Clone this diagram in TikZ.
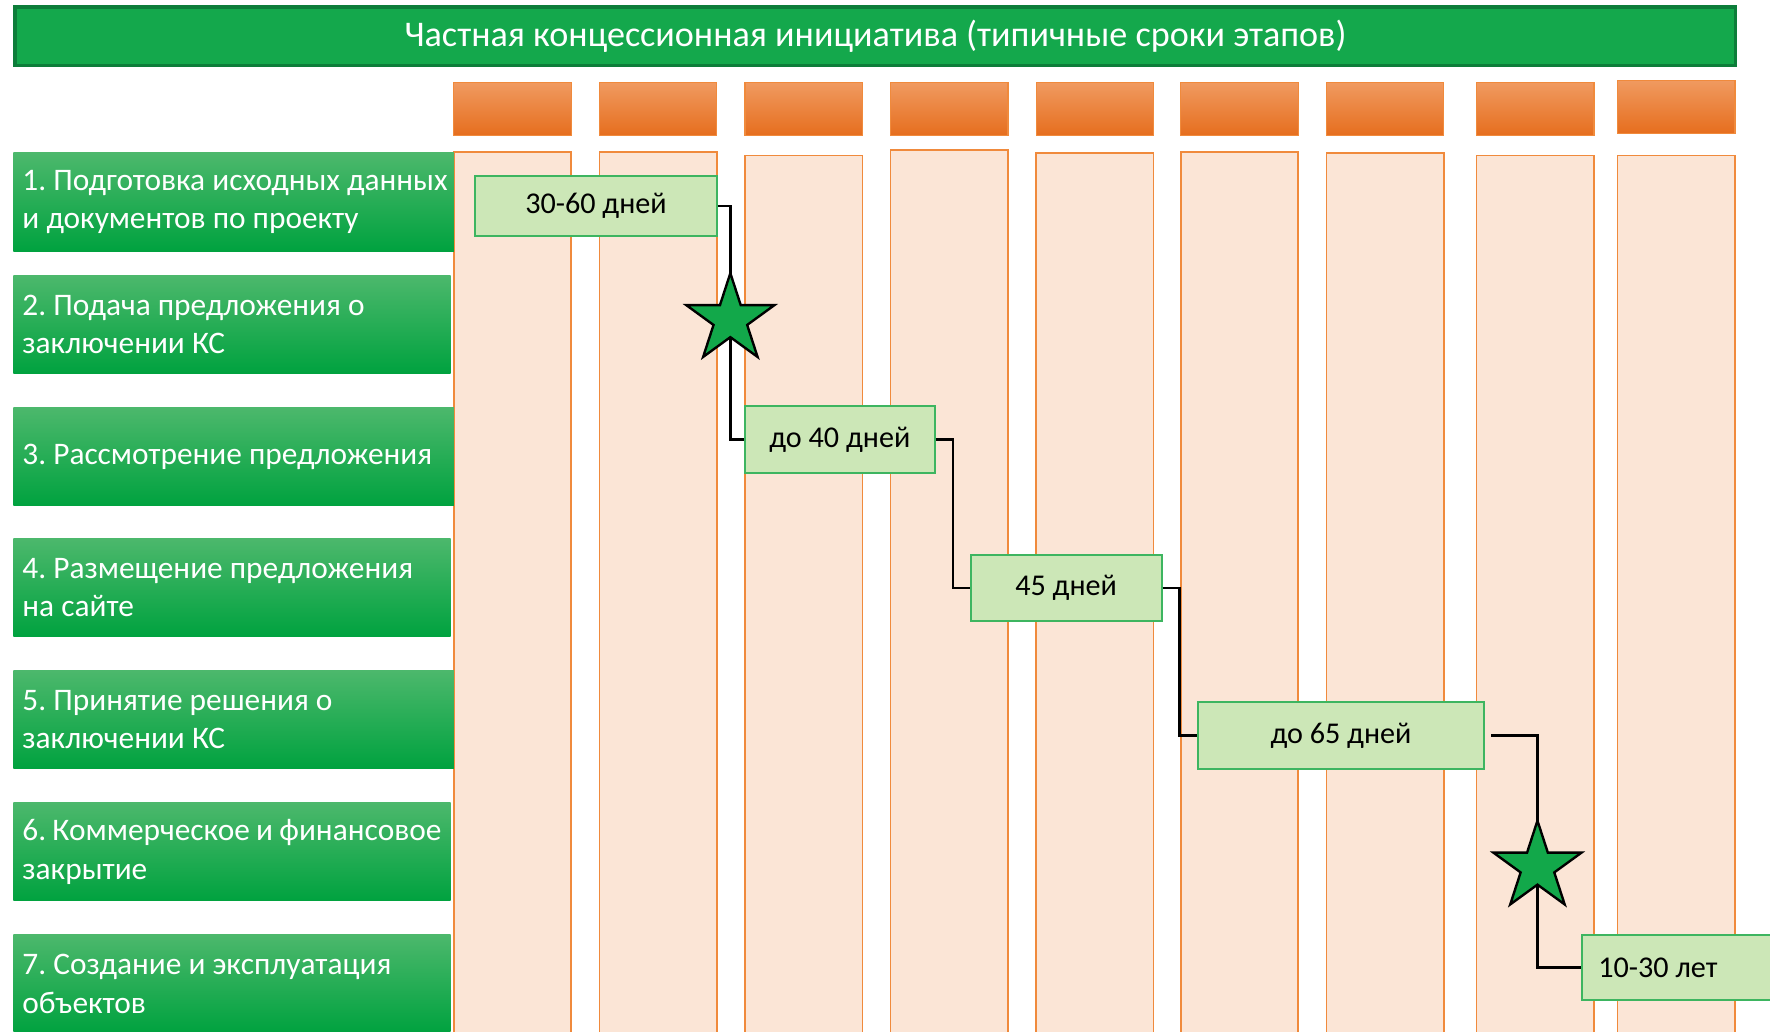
\documentclass[tikz,border=0pt]{standalone}
\usepackage{fontspec}
\setmainfont{Carlito}
\usetikzlibrary{shapes.geometric}

\definecolor{titlegreen}{HTML}{14A84C}
\definecolor{titleline}{HTML}{0D7D3A}
\definecolor{rowtop}{HTML}{4CB86C}
\definecolor{rowbottom}{HTML}{00A23F}
\definecolor{headtop}{HTML}{F09A60}
\definecolor{headmid}{HTML}{F2832A}
\definecolor{headbottom}{HTML}{E66E1E}
\definecolor{colfill}{HTML}{FBE5D6}
\definecolor{colline}{HTML}{F08A3C}
\definecolor{stepfill}{HTML}{CCE7B7}
\definecolor{stepline}{HTML}{3DB560}
\definecolor{starfill}{HTML}{12A84A}

\begin{document}
\frenchspacing
\begin{tikzpicture}[x=0.01cm,y=-0.01cm,
    colbody/.style={draw=colline, line width=0.4pt, fill=colfill, anchor=north,
      minimum width=1.04cm, minimum height=8cm, inner sep=0pt},
    colhead/.style={draw=colline, line width=0.3pt, top color=headtop, middle color=headmid,
      bottom color=headbottom, minimum width=1.04cm, minimum height=0.47cm, inner sep=0pt},
    rowlabel/.style={top color=rowtop, bottom color=rowbottom, text=white, align=flush left,
      inner xsep=0.08cm, inner ysep=0pt, minimum height=0.87cm,
      font=\fontsize{7.9}{9.7}\selectfont},
    stepbox/.style={draw=stepline, line width=0.5pt, fill=stepfill, inner sep=0pt,
      font=\fontsize{7.6}{9}\selectfont},
    starmark/.style={star, star points=5, star point ratio=2.618, minimum size=0.82cm,
      inner sep=0pt, draw=black, line width=0.6pt, fill=starfill},
    link/.style={draw=black, line width=0.6pt}]

  \clip (0,0) rectangle (1568,914);

  % title
  \node[draw=titleline, line width=1pt, fill=titlegreen, text=white,
    minimum width=15.23cm, minimum height=0.52cm, inner sep=0pt,
    font=\fontsize{9.1}{11}\selectfont] (title) at (775.5,32)
    {Частная концессионная инициатива (типичные сроки этапов)};

  % columns
  \begin{scope}[every node/.style={colbody}]
    \node (c1) at (454,134)  {};
    \node (c2) at (583,134)  {};
    \node (c3) at (712,137)  {};
    \node (c4) at (841,132)  {};
    \node (c5) at (970,135)  {};
    \node (c6) at (1098,134) {};
    \node (c7) at (1227,135) {};
    \node (c8) at (1360,137) {};
    \node (c9) at (1485,137) {};
  \end{scope}

  \begin{scope}[every node/.style={colhead}]
    \node (h1) at (454,96.5)  {};
    \node (h2) at (583,96.5)  {};
    \node (h3) at (712,96.5)  {};
    \node (h4) at (841,96.5)  {};
    \node (h5) at (970,96.5)  {};
    \node (h6) at (1098,96.5) {};
    \node (h7) at (1227,96.5) {};
    \node (h8) at (1360,96.5) {};
    \node (h9) at (1485,94.5) {};
  \end{scope}

  % stages
  \node[rowlabel, text width=3.74cm] (r1) at (207,179)
    {\mbox{1. Подготовка исходных данных}\\и документов по проекту};
  \node[rowlabel, text width=3.71cm] (r2) at (205.5,287.5)
    {2. Подача предложения о\\заключении КС};
  \node[rowlabel, text width=3.74cm] (r3) at (207,404.5)
    {3. Рассмотрение предложения};
  \node[rowlabel, text width=3.71cm] (r4) at (205.5,520.5)
    {4. Размещение предложения\\на сайте};
  \node[rowlabel, text width=3.74cm] (r5) at (207,637.5)
    {5. Принятие решения о\\заключении КС};
  \node[rowlabel, text width=3.71cm] (r6) at (205.5,754.5)
    {6. Коммерческое и финансовое\\закрытие};
  \node[rowlabel, text width=3.71cm] (r7) at (205.5,871.5)
    {7. Создание и эксплуатация\\объектов};

  % durations
  \node[stepbox, minimum width=2.14cm, minimum height=0.53cm] (t1) at (528,182.5) {30-60 дней};
  \node[stepbox, minimum width=1.68cm, minimum height=0.59cm] (t2) at (744,389.5) {до 40 дней};
  \node[stepbox, minimum width=1.69cm, minimum height=0.58cm] (t3) at (944.5,521) {45 дней};
  \node[stepbox, minimum width=2.54cm, minimum height=0.59cm] (t4) at (1188,651.5) {до 65 дней};
  \node[stepbox, anchor=west, minimum height=0.58cm, text width=1.72cm, align=flush left,
    inner xsep=0.14cm] (t5) at (1401,857) {10-30 лет};

  \coordinate (s1) at (647,283);
  \coordinate (s2) at (1362,768);

  % links
  \path[link] (t1.east) -| (s1);
  \path[link] (s1) |- (t2.west);
  \path[link] (t2.east) -| (t3.west -| 844,0) |- (t3.west);
  \path[link] (t3.east) -| (t4.west -| 1045,0) |- (t4.west);
  \path[link, shorten <=0.05cm] (t4.east) -| (s2);
  \path[link] (s2) |- (t5.west);

  \node[starmark] (star1) at (s1) {};
  \node[starmark] (star2) at (s2) {};

\end{tikzpicture}
\end{document}
